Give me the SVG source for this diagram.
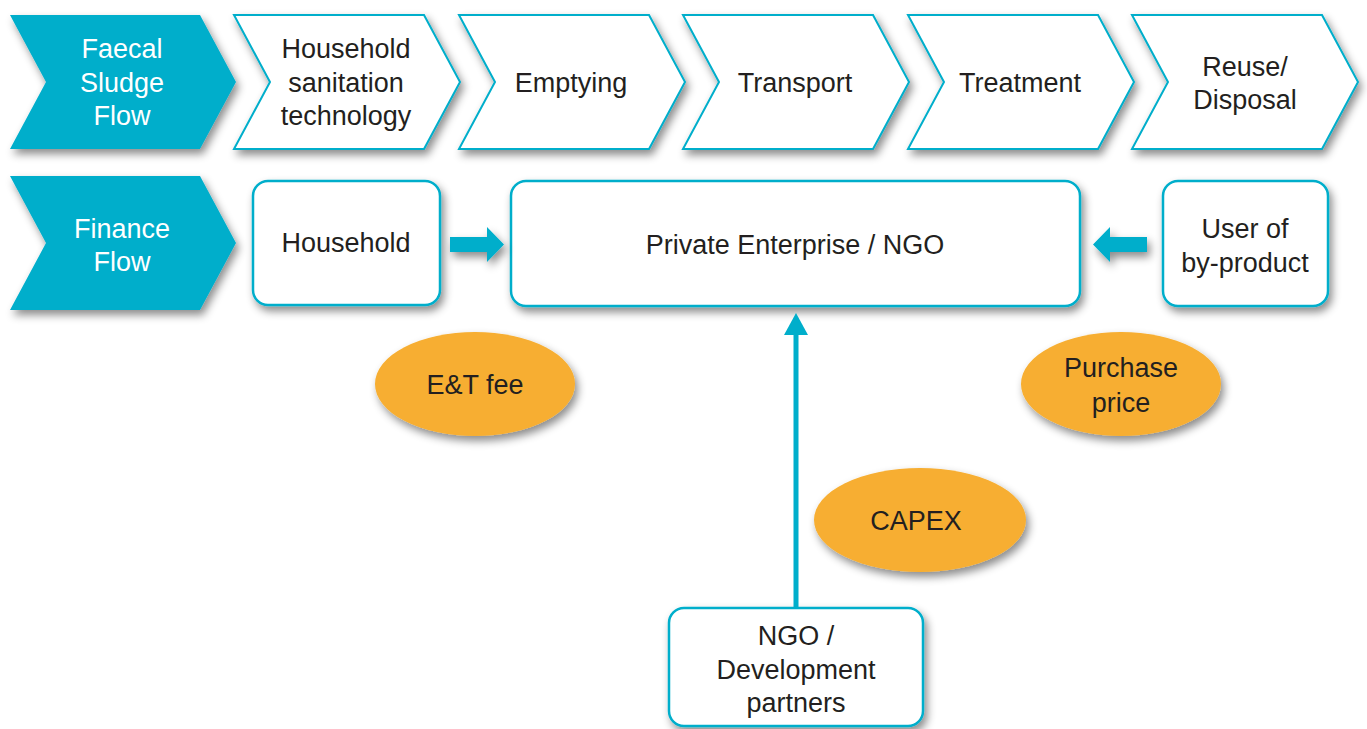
<svg xmlns="http://www.w3.org/2000/svg" width="1367" height="729" viewBox="0 0 1367 729">
<defs>
<filter id="sh" x="-20%" y="-20%" width="150%" height="160%">
<feDropShadow dx="3" dy="5" stdDeviation="4" flood-color="#000" flood-opacity="0.45"/>
</filter>
<style>
text{font-family:"Liberation Sans",Arial,sans-serif;font-size:27px;fill:#231f20;text-anchor:middle}
.w{fill:#fff}
.chev{fill:#fff;stroke:#00aecb;stroke-width:2;filter:url(#sh)}
.chevf{fill:#00aecb;filter:url(#sh)}
.box{fill:#fff;stroke:#00aecb;stroke-width:2.5;filter:url(#sh)}
.ell{fill:#f7ae31;filter:url(#sh)}
.arr{fill:#00aecb;filter:url(#sh)}
</style>
</defs>
<rect width="1367" height="729" fill="#fff"/>

<g id="faecal-flow">
<polygon class="chevf" points="10,15 200,15 236,82 200,149 10,149 46,82"/>
<text class="w" x="122" y="58">Faecal</text>
<text class="w" x="122" y="92">Sludge</text>
<text class="w" x="122" y="125">Flow</text>
</g>
<g id="household-tech">
<polygon class="chev" points="234,15 424,15 460,82 424,149 234,149 270,82"/>
<text x="346" y="58">Household</text>
<text x="346" y="92">sanitation</text>
<text x="346" y="125">technology</text>
</g>
<g id="emptying">
<polygon class="chev" points="459,15 649,15 685,82 649,149 459,149 495,82"/>
<text x="571" y="92">Emptying</text>
</g>
<g id="transport">
<polygon class="chev" points="683,15 873,15 909,82 873,149 683,149 719,82"/>
<text x="795" y="92">Transport</text>
</g>
<g id="treatment">
<polygon class="chev" points="908,15 1098,15 1134,82 1098,149 908,149 944,82"/>
<text x="1020" y="92">Treatment</text>
</g>
<g id="reuse">
<polygon class="chev" points="1132,15 1322,15 1358,82 1322,149 1132,149 1168,82"/>
<text x="1245" y="76">Reuse/</text>
<text x="1245" y="109">Disposal</text>
</g>

<g id="finance-flow">
<polygon class="chevf" points="10,176 200,176 236,243 200,310 10,310 46,243"/>
<text class="w" x="122" y="238">Finance</text>
<text class="w" x="122" y="271">Flow</text>
</g>
<g id="household">
<rect class="box" x="253" y="181" width="187" height="124" rx="15"/>
<text x="346" y="252">Household</text>
</g>
<g id="private">
<rect class="box" x="511" y="181" width="569" height="125" rx="15"/>
<text x="795" y="254">Private Enterprise / NGO</text>
</g>
<g id="user">
<rect class="box" x="1163" y="181" width="165" height="125" rx="15"/>
<text x="1245" y="238">User of</text>
<text x="1245" y="272">by-product</text>
</g>
<g id="ngo-dev">
<rect class="box" x="669" y="608" width="254" height="118" rx="15"/>
<text x="796" y="645">NGO /</text>
<text x="796" y="679">Development</text>
<text x="796" y="712">partners</text>
</g>

<g id="connectors">
<polygon class="arr" points="450,237 487,237 487,227 504,244.5 487,262 487,252 450,252"/>
<polygon class="arr" points="1147,237 1110,237 1110,227 1093,244.5 1110,262 1110,252 1147,252"/>
<line x1="796" y1="607" x2="796" y2="332" stroke="#00aecb" stroke-width="5"/>
<polygon fill="#00aecb" points="796,313 808,335 784,335"/>
</g>

<g id="et-fee">
<ellipse class="ell" cx="475" cy="384" rx="100" ry="52"/>
<text x="475" y="394">E&amp;T fee</text>
</g>
<g id="purchase-price">
<ellipse class="ell" cx="1121" cy="384" rx="100" ry="52"/>
<text x="1121" y="377">Purchase</text>
<text x="1121" y="412">price</text>
</g>
<g id="capex">
<ellipse class="ell" cx="920" cy="520" rx="106" ry="52"/>
<text x="916" y="530">CAPEX</text>
</g>
</svg>
